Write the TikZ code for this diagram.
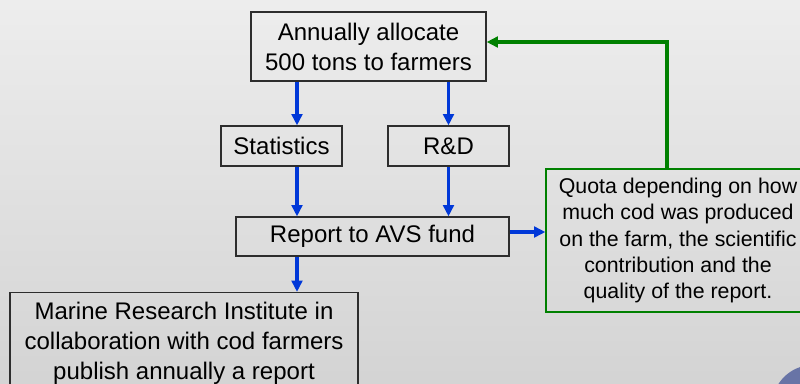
\documentclass[tikz,border=0pt]{standalone}
\usepackage{fontspec}
\setmainfont{Liberation Sans}
\usetikzlibrary{arrows.meta}
\usetikzlibrary{positioning}

\definecolor{flowblue}{RGB}{0,56,216}
\definecolor{backgreen}{RGB}{0,128,0}
\definecolor{boxline}{RGB}{45,45,45}
\definecolor{dotblue}{RGB}{104,116,166}

\tikzset{
  box/.style={draw=boxline,line width=0.9pt,align=center,inner sep=2pt,
              font=\fontsize{18}{22.5}\selectfont},
  quotabox/.style={draw=backgreen,line width=0.9pt,align=center,inner sep=2pt,
              font=\fontsize{16}{19.6}\selectfont},
  flow/.style={draw=flowblue,line width=2.5pt,-{Triangle[length=8.5pt,width=8pt]}},
  back/.style={draw=backgreen,line width=2.5pt,-{Triangle[length=8.5pt,width=8pt]}}
}

\begin{document}
\begin{tikzpicture}[x=0.75pt,y=-0.75pt,node distance=2cm,on grid]
  \clip (0,0) rectangle (800,383);
  \shade[top color=white!93!black,bottom color=white!83!black] (0,0) rectangle (800,383);
  \fill[dotblue] (813,406) circle (30.75pt);

  \node[box,minimum width=176.25pt,minimum height=51.75pt] (alloc) at (368.5,46.5)
     {Annually allocate\\500 tons to farmers};
  \node[box,minimum width=90.75pt,minimum height=30pt] (stats) at (281.5,146) {Statistics};
  \node[box,minimum width=90.75pt,minimum height=30pt] (rnd) [right=125.25pt of stats] {R\&D};
  \node[box,minimum width=204.75pt,minimum height=29.25pt] (report) at (372.5,236.5)
     {Report to AVS fund};
  \node[box,minimum width=261pt,minimum height=76.5pt] (marine) at (184,343.5)
     {Marine Research Institute in\\collaboration with cod farmers\\publish annually a report};
  \node[quotabox,minimum width=198pt,minimum height=107.25pt] (quota) at (678,240.5)
     {Quota depending on how\\much cod was produced\\on the farm, the scientific\\contribution and the\\quality of the report.};

  % lanes for the arrows
  \coordinate (lane) at (297,0);
  \coordinate (mid) at (0,232);
  \coordinate (turn) at (667,42);

  \draw[flow] (alloc.south -| lane) -- (stats.north -| lane);
  \draw[flow] (alloc.south -| rnd) -- (rnd.north);
  \draw[flow] (stats.south -| lane) -- (report.north -| lane);
  \draw[flow] (rnd.south) -- (report.north -| rnd);
  \draw[flow] (report.south -| lane) -- (marine.north -| lane);
  \draw[flow] (report.east |- mid) -- (quota.west |- mid);
  \draw[back] (quota.north -| turn) |- (alloc.east |- turn);
\end{tikzpicture}
\end{document}
